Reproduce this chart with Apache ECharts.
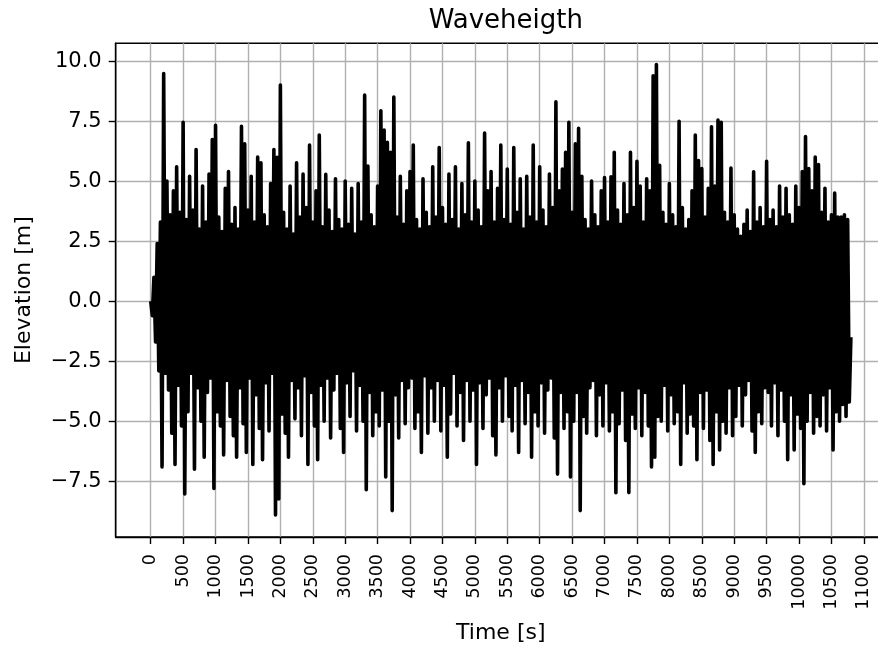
<!DOCTYPE html>
<html>
<head>
<meta charset="utf-8">
<script src="https://cdn.jsdelivr.net/npm/echarts@6/dist/echarts.min.js"></script>
<style>
html,body{margin:0;padding:0;background:#fff;}
#wrap{width:878px;height:649px;overflow:hidden;position:relative;}
#chart{width:900px;height:649px;position:absolute;left:0;top:0;}
</style>
</head>
<body>
<div id="wrap"><div id="chart"></div></div>
<script>
// Sampling step of the read-off series (s)
const timeStep = 25;
// Elevation [m], one row per 500 s (20 samples per row)
const elevation = [
  /* 0    */ 0, -0.6, 1.0, -1.7, 2.4, -2.9, 3.3, -6.9, 9.48, -3.0, 5.0, -3.7, 3.6, -5.5, 4.6, -6.8, 5.6, -3.5, 3.7, -5.2,
  /* 500  */ 7.45, -8.03, 3.4, -4.6, 5.2, -3.0, 3.8, -7.0, 6.32, -3.6, 3.0, -5.0, 4.8, -6.5, 3.3, -3.8, 5.3, -3.2, 6.73, -7.8,
  /* 1000 */ 7.33, -4.6, 3.5, -5.2, 2.9, -6.4, 4.7, -3.3, 5.4, -4.8, 3.2, -5.6, 3.9, -6.5, 3.0, -3.6, 7.28, -5.1, 6.55, -6.3,
  /* 1500 */ 3.8, -3.2, 5.2, -6.8, 3.3, -3.9, 6.0, -5.3, 5.76, -6.6, 3.6, -3.4, 3.1, -5.4, 4.9, -3.0, 6.32, -8.9, 5.99, -8.24,
  /* 2000 */ 9.0, -4.7, 3.7, -5.5, 3.0, -6.5, 4.8, -3.3, 2.8, -4.9, 5.76, -3.6, 3.5, -5.6, 5.29, -3.1, 3.9, -6.8, 6.5, -3.8,
  /* 2500 */ 3.3, -5.2, 4.6, -6.6, 6.92, -3.5, 3.1, -5.0, 5.28, -3.2, 3.8, -5.7, 2.9, -3.7, 5.1, -3.0, 3.4, -5.3, 3.0, -6.3,
  /* 3000 */ 5.0, -3.4, 3.2, -4.8, 4.7, -2.9, 2.8, -5.4, 4.9, -3.5, 3.3, -5.0, 8.58, -7.85, 5.63, -3.8, 3.6, -5.6, 3.1, -4.6,
  /* 3500 */ 4.8, -5.2, 7.93, -3.7, 7.13, -7.32, 6.62, -5.0, 6.2, -8.72, 8.5, -3.9, 3.5, -5.7, 5.2, -3.3, 3.2, -5.1, 4.6, -3.6,
  /* 4000 */ 5.4, -3.2, 6.5, -5.3, 3.4, -4.6, 3.0, -6.3, 5.1, -3.1, 3.7, -5.5, 3.1, -3.6, 5.6, -5.0, 3.5, -3.3, 6.4, -5.4,
  /* 4500 */ 3.9, -3.5, 3.2, -6.5, 5.3, -4.7, 3.4, -3.0, 5.6, -5.2, 3.0, -3.8, 4.9, -5.8, 3.6, -3.3, 6.6, -5.0, 3.3, -3.7,
  /* 5000 */ 5.0, -6.8, 3.8, -3.4, 3.1, -5.3, 7.0, -3.9, 4.6, -3.2, 5.4, -5.6, 3.3, -6.4, 4.7, -3.6, 6.5, -5.0, 3.4, -3.1,
  /* 5500 */ 5.5, -4.8, 3.2, -5.4, 6.4, -3.5, 3.7, -6.3, 5.1, -3.3, 3.0, -5.1, 5.2, -3.8, 3.5, -6.5, 6.5, -4.6, 3.3, -5.2,
  /* 6000 */ 5.6, -3.4, 3.8, -5.5, 3.1, -3.7, 5.3, -3.2, 3.9, -5.7, 8.3, -7.2, 4.6, -3.8, 5.5, -5.3, 6.2, -4.6, 7.45, -7.32,
  /* 6500 */ 3.7, -5.0, 6.55, -3.8, 7.2, -8.72, 5.2, -4.8, 3.4, -5.5, 3.0, -3.6, 5.0, -3.3, 3.6, -5.6, 3.1, -3.9, 4.6, -5.2,
  /* 7000 */ 5.15, -3.4, 3.3, -5.4, 5.18, -4.6, 6.2, -7.98, 3.8, -5.1, 3.2, -3.7, 4.9, -5.8, 3.6, -7.97, 6.2, -4.7, 3.9, -5.3,
  /* 7500 */ 5.83, -3.6, 4.8, -5.6, 3.3, -3.8, 5.1, -5.2, 4.6, -6.9, 9.39, -6.5, 9.86, -4.8, 5.66, -5.0, 3.7, -3.5, 3.2, -5.4,
  /* 8000 */ 4.9, -3.9, 3.6, -5.1, 3.1, -4.6, 7.49, -6.8, 3.9, -3.4, 3.0, -5.5, 3.4, -4.7, 4.6, -5.2, 6.92, -6.6, 5.86, -3.8,
  /* 8500 */ 5.52, -5.3, 3.5, -3.7, 4.7, -5.8, 7.26, -6.8, 4.8, -4.6, 7.54, -6.2, 7.45, -5.0, 3.7, -5.5, 3.3, -3.6, 5.55, -5.6,
  /* 9000 */ 3.6, -4.8, 3.0, -3.5, 2.7, -5.2, 3.2, -3.9, 3.8, -3.3, 2.9, -5.4, 5.39, -6.3, 3.3, -4.6, 3.9, -5.1, 3.1, -3.6,
  /* 9500 */ 5.83, -3.8, 3.4, -5.2, 3.8, -3.4, 3.1, -5.6, 4.8, -3.7, 3.5, -5.0, 4.7, -6.6, 3.6, -3.9, 3.2, -6.2, 4.8, -4.7,
  /* 10000*/ 3.9, -5.3, 5.4, -7.6, 6.86, -5.0, 5.52, -3.8, 4.6, -5.5, 6.0, -4.8, 5.69, -5.2, 3.7, -3.9, 4.7, -5.4, 3.3, -3.6,
  /* 10500*/ 3.6, -6.2, 4.5, -4.6, 3.5, -5.0, 3.5, -4.3, 3.6, -4.8, 3.4, -4.2, -1.5
];
const xTicks = [0,500,1000,1500,2000,2500,3000,3500,4000,4500,5000,5500,6000,6500,7000,7500,8000,8500,9000,9500,10000,10500,11000];
const yTicks = [-7.5,-5.0,-2.5,0.0,2.5,5.0,7.5,10.0];
const xRange = [-540, 11340];
const yRange = [-9.82, 10.74];

const seriesData = elevation.map((v, i) => [i * timeStep, v]);

const font = 'DejaVu Sans';
const chart = echarts.init(document.getElementById('chart'), null, {renderer: 'canvas'});
chart.setOption({
  animation: false,
  backgroundColor: '#fff',
  title: {
    text: 'Waveheigth',
    left: 500.8,
    top: 3,
    textAlign: 'center',
    textStyle: {fontFamily: font, fontSize: 26, fontWeight: 'normal', color: '#000'}
  },
  grid: {
    left: 115.7, top: 43.3, width: 770.2, height: 499,
    show: true, borderColor: '#000', borderWidth: 1.4, backgroundColor: 'transparent'
  },
  xAxis: {
    type: 'value', min: xRange[0], max: xRange[1],
    name: 'Time [s]', nameLocation: 'middle', nameGap: 85,
    nameTextStyle: {fontFamily: font, fontSize: 22, color: '#000'},
    axisLine: {show: true, onZero: false, lineStyle: {color: '#000', width: 1.4}},
    axisTick: {show: true, customValues: xTicks, length: 7, lineStyle: {color: '#000', width: 1.4}},
    axisLabel: {customValues: xTicks, rotate: 90, margin: 17, color: '#000', fontFamily: font, fontSize: 17.5,
      formatter: v => String(Math.round(v))},
    splitLine: {show: true, lineStyle: {color: '#b0b0b0', width: 1.4}}
  },
  yAxis: {
    type: 'value', min: yRange[0], max: yRange[1],
    name: 'Elevation [m]', nameLocation: 'middle', nameGap: 80,
    nameTextStyle: {fontFamily: font, fontSize: 22, color: '#000'},
    axisLine: {show: true, onZero: false, lineStyle: {color: '#000', width: 1.4}},
    axisTick: {show: true, customValues: yTicks, length: 7, lineStyle: {color: '#000', width: 1.4}},
    axisLabel: {customValues: yTicks, margin: 14, color: '#000', fontFamily: font, fontSize: 21,
      formatter: v => v.toFixed(1).replace('-', '\u2212')},
    splitLine: {show: true, lineStyle: {color: '#b0b0b0', width: 1.4}}
  },
  series: [{
    type: 'line',
    data: seriesData,
    showSymbol: false,
    symbol: 'none',
    sampling: null,
    lineStyle: {color: '#000', width: 3.6, join: 'round', cap: 'butt'},
    z: 3
  }]
});
</script>
</body>
</html>
